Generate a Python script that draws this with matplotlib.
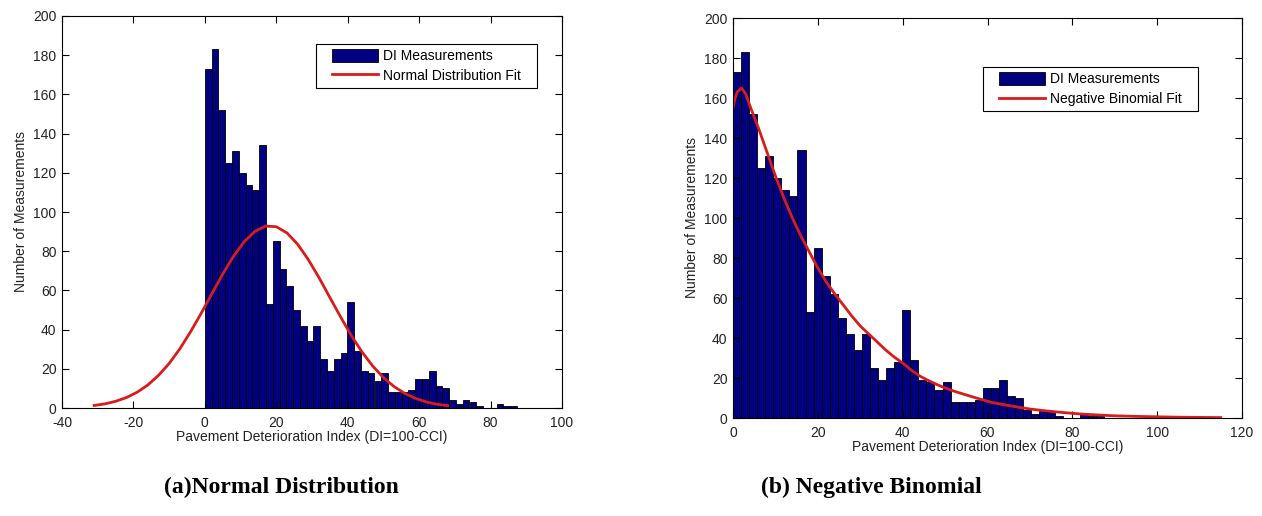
"""
Pavement DI histograms with normal and negative binomial fits.
"""

import numpy as np
import matplotlib.pyplot as plt
from matplotlib.patches import Patch, Rectangle
from matplotlib.lines import Line2D
from matplotlib.transforms import IdentityTransform

# histogram counts per bin (same data in both panels)
bin_width = 1.9
di_counts = [173, 183, 152, 125, 131, 120, 114, 111, 134, 53,
             85, 71, 62, 50, 42, 34, 42, 25, 19, 25,
             28, 54, 29, 19, 18, 14, 18, 8, 8, 8,
             9, 15, 15, 19, 11, 10, 4, 2, 4, 3,
             1, 0, 0, 2, 1, 1]

# normal distribution fit
normal_x = [-31, -28, -25, -22, -19, -16, -13, -10, -7, -4, -1, 2, 5, 8, 11,
            14, 17, 20, 23, 26, 29, 32, 35, 38, 41, 44, 47, 50, 53, 56, 59,
            62, 65, 68]
normal_y = [1.3, 2.1, 3.4, 5.3, 8.0, 11.7, 16.6, 22.7, 30.2, 38.9, 48.4, 58.4,
            68.3, 77.4, 84.8, 90.1, 92.8, 92.5, 89.3, 83.5, 75.6, 66.4, 56.4,
            46.5, 37.0, 28.6, 21.4, 15.5, 10.9, 7.4, 4.9, 3.1, 1.9, 1.2]

# negative binomial fit
negbin_x = [0, 0.5, 1, 2, 3, 4, 6, 8, 10, 12, 14, 16, 18, 20, 22, 24, 26, 28,
            30, 32, 34, 36, 38, 40, 42, 44, 46, 48, 50, 52, 55, 58, 61, 64,
            67, 70, 74, 78, 82, 86, 90, 95, 100, 105, 110, 115]
negbin_y = [155, 160, 163, 165, 162, 156, 145, 133, 121, 110, 100, 91, 83, 75,
            68, 62, 56.5, 51, 46, 42, 38, 34, 30.5, 27.5, 24, 21, 18.8, 16.8,
            15, 13.5, 11.5, 9.6, 7.8, 6.6, 5.5, 4.5, 3.5, 2.7, 2.0, 1.5, 1.1,
            0.8, 0.6, 0.4, 0.3, 0.2]

plt.rcParams['font.family'] = ['Liberation Sans', 'DejaVu Sans']
plt.rcParams['axes.unicode_minus'] = False
BAR_COLOR = '#000080'
FIT_COLOR = '#D81C1C'
TEXT_COLOR = '#222222'


def draw_panel(ax, fit_x, fit_y, fit_label, xlim, legend_anchor):
    edges = np.arange(len(di_counts)) * bin_width
    ax.bar(edges, di_counts, width=bin_width, align='edge',
           color=BAR_COLOR, edgecolor='black', linewidth=0.6)
    ax.plot(fit_x, fit_y, color=FIT_COLOR, linewidth=2)

    ax.set_xlim(*xlim)
    ax.set_ylim(0, 200)
    ax.set_yticks(np.arange(0, 201, 20))
    ax.tick_params(direction='in', top=True, right=True, length=5,
                   labelsize=10, labelcolor=TEXT_COLOR)
    ax.tick_params(axis='x', pad=6)
    ax.tick_params(axis='y', pad=4)
    ax.set_xlabel('Pavement Deterioration Index (DI=100-CCI)', fontsize=10,
                  color=TEXT_COLOR, labelpad=0)
    ax.set_ylabel('Number of Measurements', fontsize=10, color=TEXT_COLOR,
                  labelpad=4)

    handles = [Patch(facecolor=BAR_COLOR, edgecolor='black', linewidth=0.6),
               Line2D([], [], color=FIT_COLOR, linewidth=2)]
    leg = ax.legend(handles, ['DI Measurements', fit_label],
                    loc='upper right', bbox_to_anchor=legend_anchor,
                    fontsize=10, frameon=False,
                    handlelength=3.3, handleheight=1.1, handletextpad=0.4,
                    labelspacing=0.4, borderpad=0.35, borderaxespad=0)
    return leg


fig = plt.figure(figsize=(12.62, 5.16), dpi=100)

ax1 = fig.add_axes([62 / 1262, 108 / 516, 500 / 1262, 392 / 516])
leg1 = draw_panel(ax1, normal_x, normal_y, 'Normal Distribution Fit',
                  (-40, 100), (0.928, 0.929))

ax2 = fig.add_axes([733 / 1262, 98 / 516, 509 / 1262, 400 / 516])
leg2 = draw_panel(ax2, negbin_x, negbin_y, 'Negative Binomial Fit',
                  (0, 120), (0.892, 0.8775))

# MATLAB-style legend box: wider side margins than matplotlib allows
fig.canvas.draw()
for ax, leg in [(ax1, leg1), (ax2, leg2)]:
    bb = leg.get_window_extent()
    box = Rectangle((bb.x0 - 11, bb.y0), bb.width + 22, bb.height,
                    transform=IdentityTransform(), facecolor='white',
                    edgecolor='black', linewidth=0.8, zorder=4.9)
    ax.add_artist(box)

fig.text(281 / 1262, 1 - 487 / 516, '(a)Normal Distribution',
         ha='center', va='center', fontsize=17, fontweight='bold',
         family=['Liberation Serif', 'DejaVu Serif'])
fig.text(871 / 1262, 1 - 487 / 516, '(b) Negative Binomial',
         ha='center', va='center', fontsize=17, fontweight='bold',
         family=['Liberation Serif', 'DejaVu Serif'])

plt.savefig('out.png', dpi=100)
